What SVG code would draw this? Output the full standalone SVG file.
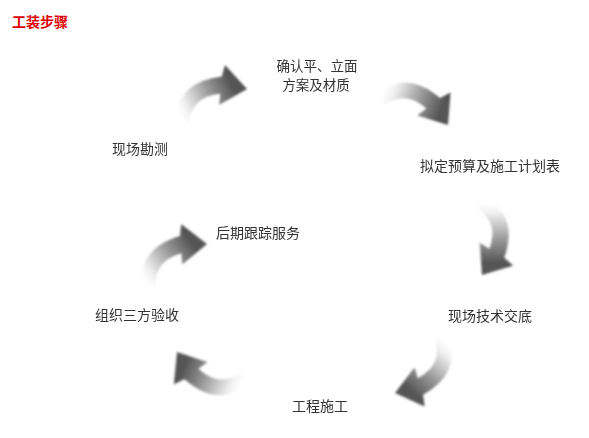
<svg xmlns="http://www.w3.org/2000/svg" width="589" height="438" viewBox="0 0 589 438">
<style>
.t{font-family:"Noto Sans CJK SC","Noto Sans",sans-serif;font-size:14px;fill:#333}
.s{font-size:13.5px}
.title{font-family:"Noto Sans CJK SC",sans-serif;font-size:14px;font-weight:bold;fill:#dd0000}
</style>
<defs>
<linearGradient id="g" gradientUnits="userSpaceOnUse" x1="-72" y1="0" x2="-12" y2="0">
<stop offset="0" stop-color="#ffffff"/>
<stop offset="0.15" stop-color="#f2f2f2"/>
<stop offset="0.6" stop-color="#9a9a9a"/>
<stop offset="1" stop-color="#555555"/>
</linearGradient>
<filter id="b" x="-20%" y="-20%" width="140%" height="140%"><feGaussianBlur stdDeviation="1"/></filter>
<path id="arr" d="M-77,-3.8 Q-58.5,-35.5 -17.7,-22 L-9.9,-31 L0,0 L-32.1,2.8 L-26.2,-7 Q-52.4,-16.6 -67,6 Z"/>
</defs>
<rect width="589" height="438" fill="#fff"/>
<text class="title" x="12" y="27">工装步骤</text>
<g id="connectors" fill="url(#g)" filter="url(#b)">
<use href="#arr" transform="translate(247,89) rotate(-24.8)"/>
<use href="#arr" transform="translate(448,125) rotate(22.2)"/>
<use href="#arr" transform="translate(482,275) rotate(91)"/>
<use href="#arr" transform="translate(395,393) rotate(132.3)"/>
<use href="#arr" transform="translate(177,352) rotate(203.3)"/>
<use href="#arr" transform="translate(207,244) rotate(-34.7)"/>
</g>
<g id="n1"><text class="t" x="112" y="154">现场勘测</text></g>
<g id="n2"><text class="t s" x="317" y="70.5" text-anchor="middle">确认平、立面</text><text class="t s" x="316" y="90" text-anchor="middle">方案及材质</text></g>
<g id="n3"><text class="t" x="420" y="171">拟定预算及施工计划表</text></g>
<g id="n4"><text class="t" x="448" y="321">现场技术交底</text></g>
<g id="n5"><text class="t" x="292" y="411">工程施工</text></g>
<g id="n6"><text class="t" x="95" y="320">组织三方验收</text></g>
<g id="n7"><text class="t" x="216" y="238">后期跟踪服务</text></g>
</svg>
